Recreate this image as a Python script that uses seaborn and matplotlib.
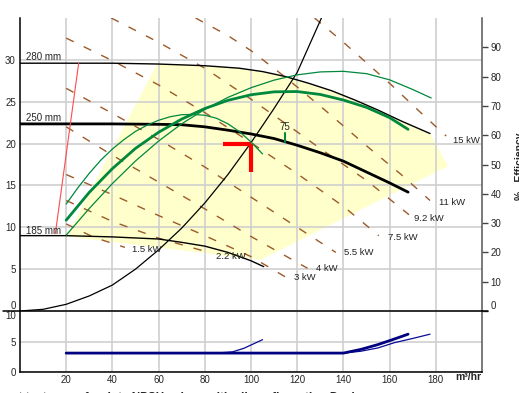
import numpy as np
import pandas as pd
import seaborn as sns
import matplotlib.pyplot as plt
from matplotlib.lines import Line2D

# impeller head curves (m)
q_280 = [0, 20, 40, 60, 80, 95, 105, 115, 125, 135, 145, 155, 165, 177.5]
h_280 = [29.6, 29.6, 29.6, 29.5, 29.3, 29.0, 28.6, 28.0, 27.2, 26.3, 25.2, 24.0, 22.7, 21.2]
q_250 = [0, 20, 40, 60, 70, 80, 90, 100, 110, 120, 130, 140, 150, 160, 168]
h_250 = [22.35, 22.35, 22.35, 22.3, 22.25, 22.0, 21.6, 21.15, 20.6, 19.8, 18.9, 17.9, 16.6, 15.3, 14.2]
q_185 = [0, 20, 40, 60, 70, 80, 90, 100, 105.5]
h_185 = [9.0, 9.0, 8.85, 8.6, 8.2, 7.75, 7.0, 6.0, 5.3]
imp_labels = ["280 mm", "250 mm", "185 mm"]
imp_label_y = [30.3, 23.0, 9.6]

# system curve
q_sys = [0, 10, 20, 30, 40, 50, 60, 70, 80, 90, 100, 110, 120, 130.5]
h_sys = [0, 0.2, 0.8, 1.8, 3.1, 5.0, 7.3, 9.9, 12.9, 16.3, 20.1, 24.2, 28.5, 35.0]

# efficiency curves (%)
qe_280 = [20, 30, 40, 50, 60, 70, 80, 90, 100, 110, 120, 130, 140, 150, 160, 170, 178]
eff_280 = [25.9, 35.0, 43.5, 51.2, 58.0, 63.9, 68.8, 72.9, 76.2, 78.8, 80.6, 81.6, 81.8, 81.0, 78.9, 75.6, 72.7]
qe_250 = [20, 30, 40, 50, 60, 70, 80, 90, 100, 110, 120, 130, 140, 150, 160, 168]
eff_250 = [31.0, 40.5, 48.6, 55.5, 61.0, 65.5, 69.1, 71.9, 73.8, 74.8, 74.9, 73.9, 72.0, 69.5, 66.0, 62.0]
qe_185 = [20, 25, 30, 35, 40, 45, 50, 55, 60, 65, 70, 75, 80, 85, 90, 95, 100, 105]
eff_185 = [36.5, 42.0, 47.0, 51.5, 55.3, 58.5, 61.3, 63.4, 65.1, 66.3, 67.0, 67.1, 66.8, 65.8, 63.9, 61.2, 57.7, 53.6]

# NPSH required (m)
qn_280 = [20, 60, 100, 140, 147.5, 155, 162, 170, 177.5]
npsh_280 = [3.1, 3.1, 3.1, 3.1, 3.4, 3.95, 4.8, 5.5, 6.2]
qn_250 = [20, 60, 100, 140, 147.5, 155, 162, 168]
npsh_250 = [3.1, 3.1, 3.1, 3.1, 3.7, 4.5, 5.4, 6.2]
qn_185 = [20, 60, 85, 92, 97, 101, 105]
npsh_185 = [3.1, 3.1, 3.1, 3.3, 3.9, 4.6, 5.3]

# iso-power lines
kw_labels = ["1.5 kW", "2.2 kW", "3 kW", "4 kW", "5.5 kW", "7.5 kW", "9.2 kW", "11 kW", "15 kW"]
kw_q = [
    [20, 32, 45.4],
    [20, 40, 60, 83],
    [20, 40, 60, 80, 100, 115.3],
    [20, 40, 60, 80, 100, 124.5],
    [20, 40, 60, 80, 100, 120, 136.7],
    [20, 40, 60, 80, 100, 120, 140, 155.3],
    [39.5, 60, 80, 100, 120, 130, 150, 168.4],
    [76, 90, 100, 115, 132, 151, 165, 177.5],
    [127.5, 140, 160, 175, 184.5],
]
kw_h = [
    [10.4, 8.8, 7.6],
    [13.2, 10.7, 8.7, 6.9],
    [16.3, 13.9, 11.4, 9.0, 6.5, 4.0],
    [22.0, 18.6, 15.4, 12.2, 8.9, 5.1],
    [26.6, 23.6, 20.5, 17.2, 13.6, 10.0, 7.0],
    [32.6, 29.9, 27.0, 23.7, 20.1, 16.4, 12.5, 9.0],
    [35.0, 32.1, 29.0, 25.3, 21.4, 19.4, 15.6, 11.5],
    [35.0, 32.9, 31.1, 27.9, 24.0, 19.5, 16.3, 13.2],
    [35.0, 32.1, 27.2, 23.3, 20.9],
]
kw_txt_q = [48.4, 85.0, 118.4, 128.0, 140.1, 159.3, 170.6, 181.4, 187.5]
kw_txt_h = [7.4, 6.5, 4.0, 5.1, 7.0, 8.8, 11.0, 13.0, 20.4]

# operating region corners (besides the 280 mm curve)
reg_q = [185.3, 104.0, 20.1]
reg_h = [17.3, 6.1, 8.9]

# min flow line, duty point
minflow_q = [25.4, 15.3]
minflow_h = [29.6, 9.25]
duty_q, duty_h = 100, 20

sns.set_style("white")
plt.rcParams['font.family'] = ['Liberation Sans', 'DejaVu Sans']

W, H = 519, 393
fig = plt.figure(figsize=(W / 100, H / 100), dpi=100)


def box(l, t, r, b):
    return [l / W, 1 - b / H, (r - l) / W, (b - t) / H]


ax = fig.add_axes(box(20, 18, 482, 311))
axn = fig.add_axes(box(20, 311, 482, 372))
ax2 = ax.twinx()

grid_c = "#cfcfcf"
green = "#00883d"
brown = "#9c5a2a"

# operating region
poly_q = [59.3] + [q for q in q_280 if q >= 60] + reg_q
poly_h = [29.5] + [h for q, h in zip(q_280, h_280) if q >= 60] + reg_h
ax.fill(poly_q, poly_h, color="#ffffcc", lw=0, zorder=0.5)

# power lines
for i in range(len(kw_labels)):
    d = pd.DataFrame({"q": kw_q[i], "h": kw_h[i]})
    sns.lineplot(data=d, x="q", y="h", ax=ax, color=brown, lw=1.0,
                 linestyle=(0, (6, 8)), sort=False, estimator=None)
    ax.text(kw_txt_q[i], kw_txt_h[i], kw_labels[i], fontsize=6.8,
            ha="left", va="center", color="#222222")

# head curves
for q, h, lw in [(q_280, h_280, 1.0), (q_250, h_250, 2.0), (q_185, h_185, 1.0)]:
    sns.lineplot(x=q, y=h, ax=ax, color="black", lw=lw, sort=False, estimator=None)
for lab, y in zip(imp_labels, imp_label_y):
    ax.text(2.7, y, lab, fontsize=7, ha="left", va="center")

sns.lineplot(x=q_sys, y=h_sys, ax=ax, color="black", lw=0.9, sort=False, estimator=None)
sns.lineplot(x=minflow_q, y=minflow_h, ax=ax, color="#ff4a4a", lw=0.8, sort=False, estimator=None)

# duty point marker
ax.plot([duty_q - 12, duty_q], [duty_h, duty_h], color="red", lw=3, solid_capstyle="butt")
ax.plot([duty_q, duty_q], [duty_h, duty_h - 3.4], color="red", lw=3, solid_capstyle="butt")

# 75 % mark on 250 mm curve
ax.plot([114.6, 114.6], [20.2, 21.3], color=green, lw=1.5)
ax.text(114.6, 22.0, "75", fontsize=7, ha="center", va="center")

# efficiency curves
sns.lineplot(x=qe_280, y=eff_280, ax=ax2, color=green, lw=0.9, sort=False, estimator=None)
sns.lineplot(x=qe_250, y=eff_250, ax=ax2, color=green, lw=2.0, sort=False, estimator=None)
sns.lineplot(x=qe_185, y=eff_185, ax=ax2, color=green, lw=0.9, sort=False, estimator=None)

# NPSH
sns.lineplot(x=qn_280, y=npsh_280, ax=axn, color="#0a0a96", lw=0.9, sort=False, estimator=None)
sns.lineplot(x=qn_185, y=npsh_185, ax=axn, color="#0a0a96", lw=0.9, sort=False, estimator=None)
sns.lineplot(x=qn_250, y=npsh_250, ax=axn, color="#000080", lw=2.0, sort=False, estimator=None)

# axes setup
xt = list(range(20, 181, 20))
for a in (ax, axn):
    a.set_xlim(0, 200)
    a.set_xticks(xt)
    a.grid(True, color=grid_c, lw=1.2)
    a.set_xlabel("")
    a.set_ylabel("")

ax.set_ylim(0, 35)
yt = list(range(0, 31, 5))
ax.set_yticks(yt, labels=[str(t) for t in yt])
ax.tick_params(axis="x", labelbottom=False, length=0)
ax.tick_params(axis="y", length=0, labelsize=7, pad=3)
ax.get_yticklabels()[0].set_va("bottom")

ax2.set_ylim(0, 100)
et = list(range(0, 91, 10))
ax2.set_yticks(et, labels=[str(t) for t in et])
ax2.tick_params(axis="y", length=4, width=1, color="#444444", labelsize=7, pad=2)
ax2.get_yticklabels()[0].set_va("bottom")
ax2.grid(False)
ax2.set_ylabel("")

axn.set_ylim(0, 10)
nt = [0, 5, 10]
axn.set_yticks(nt, labels=[str(t) for t in nt])
axn.tick_params(axis="y", length=0, labelsize=7, pad=3)
axn.tick_params(axis="x", length=0, labelsize=7, pad=2)
axn.get_yticklabels()[-1].set_va("top")

for a in (ax, ax2, axn):
    a.spines["top"].set_visible(False)
ax.spines["bottom"].set_visible(False)
ax2.spines["bottom"].set_visible(False)
ax2.spines["left"].set_visible(False)
ax.spines["right"].set_visible(False)
ax.spines["left"].set_color("black")
axn.spines["left"].set_color("black")
axn.spines["bottom"].set_color("black")
ax2.spines["right"].set_color("#555555")
axn.spines["right"].set_color("#555555")
for a in (ax, ax2, axn):
    for s in a.spines.values():
        s.set_linewidth(1.1)

# separator line between panels
fig.add_artist(Line2D([3 / W, 488 / W], [1 - 311 / H] * 2, color="black", lw=1.1))

fig.text(481 / W, 1 - 377 / H, "m³/hr", ha="right", va="center", fontsize=7.5, fontweight="bold")
fig.text(520 / W, 1 - 166 / H, "% - Efficiency", rotation=90, ha="center", va="center",
         fontsize=7.5, fontweight="bold")
fig.text(-2 / W, 1 - 165 / H, "Head - m", rotation=90, ha="center", va="center",
         fontsize=7.5, color="#a8d8f0")
fig.text(-2 / W, 1 - 342 / H, "NPSH - m", rotation=90, ha="center", va="center",
         fontsize=7.5, color="#a8d8f0")
fig.text(12 / W, 1 - 401 / H, "at test curve for duty NPSH values with all configuration Design",
         ha="left", va="baseline", fontsize=8.5, fontweight="bold")

fig.savefig("out.png", dpi=100)
